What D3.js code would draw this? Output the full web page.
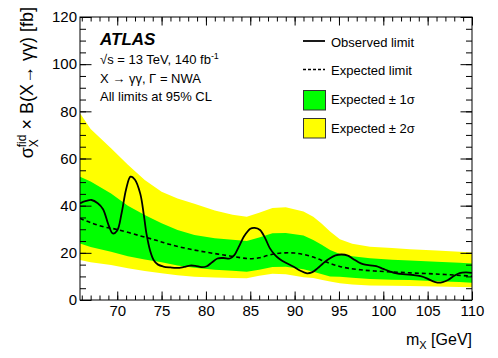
<!DOCTYPE html>
<html>
<head>
<meta charset="utf-8">
<script src="https://cdn.jsdelivr.net/npm/d3@7"></script>
<style>
  body { margin: 0; background: #fff; }
  text { font-family: "Liberation Sans", Arial, Helvetica, sans-serif; fill: #000; }
</style>
</head>
<body>
<svg id="chart"></svg>
<script>
// size of the graphic
var width = 498,
    height = 358;

// expected bands
var bandMass = [65.8, 67, 69.3, 71.2, 73.1, 75, 76.8, 78.7, 81, 83, 84.6, 86, 87.5, 89, 91, 92.1, 93, 94, 95.1, 96.5, 98.5, 101, 103, 106, 108.6, 110];
var plus2  = [79.2, 72.5, 64.3, 57.3, 50.9, 45.9, 43.0, 40.8, 38.0, 36.2, 35.3, 37.0, 39.0, 39.3, 37.5, 35.3, 32.5, 29.0, 25.8, 23.8, 22.6, 22.0, 21.5, 21.0, 20.5, 20.1];
var plus1  = [52.3, 50.2, 45.2, 40.0, 36.0, 32.5, 29.7, 27.6, 26.2, 25.5, 25.0, 26.5, 28.3, 28.4, 27.3, 25.4, 23.5, 21.2, 19.5, 18.5, 17.7, 17.1, 16.7, 16.2, 15.8, 15.5];
var minus1 = [24.0, 22.5, 20.5, 18.6, 17.2, 16.0, 14.6, 13.7, 12.8, 12.4, 12.0, 12.8, 14.0, 14.1, 13.0, 12.0, 11.0, 10.0, 9.9, 9.4, 8.9, 8.6, 8.5, 8.0, 7.6, 7.3];
var minus2 = [17.0, 16.0, 14.8, 13.5, 12.3, 11.3, 10.5, 9.9, 9.5, 9.3, 9.2, 10.3, 11.1, 10.9, 9.6, 9.3, 8.6, 7.8, 7.1, 6.6, 6.2, 6.0, 5.9, 5.7, 5.5, 5.4];

// expected limit (dashed)
var expMass  = [65.8, 67, 68.5, 70, 72.5, 74.4, 76, 78, 80, 82, 84, 85, 86, 87, 88, 89, 90, 91, 92, 93, 94, 95, 96, 97.4, 99, 101, 103, 105, 107, 110];
var expected = [34.6, 32.8, 31.0, 29.9, 27.3, 25.3, 23.5, 21.7, 20.3, 19.1, 17.9, 17.5, 17.9, 18.9, 19.7, 20.0, 19.9, 19.3, 18.3, 16.9, 15.5, 14.3, 13.5, 12.8, 12.3, 11.9, 11.5, 11.2, 10.8, 10.1];

// observed limit (solid)
var obsMass = [65.8, 66.5, 67.1, 67.8, 68.4, 69.0, 69.5, 70.0, 70.5, 71.0, 71.5, 72.0, 72.6, 73.0, 73.3, 73.7, 74.1, 74.6, 75.2, 76.0, 76.7, 77.5, 78.2, 78.8, 79.5, 80.1, 80.7, 81.3, 82.0, 82.7, 83.2, 83.7, 84.3, 85.0, 85.5, 86.1, 86.7, 87.2, 87.8, 88.3, 89.0, 89.9, 90.6, 91.4, 92.0, 92.6, 93.2, 93.9, 94.6, 95.3, 96.0, 96.6, 97.2, 97.7, 98.5, 99.2, 100.0, 100.7, 101.5, 102.5, 103.4, 104.2, 104.9, 105.5, 106.1, 106.7, 107.3, 108.0, 108.6, 109.3, 110.0];
var observed = [41, 42, 42.4, 41, 38.5, 32, 28.2, 29.5, 37, 47, 52.3, 51, 45, 36, 28, 21, 17, 15, 14.2, 13.8, 13.6, 14, 14.6, 14.5, 13.9, 14.3, 16, 17.6, 17.8, 17.6, 19, 22.5, 27, 30.2, 30.6, 29.7, 26, 22, 19, 17.4, 15.8, 14.1, 12.5, 11.3, 11.8, 13.5, 15.5, 17.5, 18.9, 19.3, 18.8, 17.4, 16, 15.2, 14.7, 14.4, 13.2, 12.2, 11.3, 10.9, 10.6, 10.1, 9.2, 8.1, 7.4, 7.6, 8.5, 10.3, 11.4, 11.7, 11.5];

// axis ticks
var xMajor = [70, 75, 80, 85, 90, 95, 100, 105, 110];
var xMinor = d3.range(66, 111, 1);
var yMajor = [0, 20, 40, 60, 80, 100, 120];
var yMinor = d3.range(0, 121, 5);

// frame of the plot
var frameL = 80, frameR = 472, frameT = 17, frameB = 300;

var x = d3.scaleLinear().domain([65.8, 110]).range([frameL, frameR]);
var y = d3.scaleLinear().domain([0, 120]).range([frameB, frameT]);

var svg = d3.select("#chart")
    .attr("width", width)
    .attr("height", height);

svg.append("clipPath").attr("id", "frame")
  .append("rect")
    .attr("x", frameL).attr("y", frameT)
    .attr("width", frameR - frameL).attr("height", frameB - frameT);

var plot = svg.append("g").attr("clip-path", "url(#frame)");

var bandRows = bandMass.map(function(m, i) {
  return { m: m, p2: plus2[i], p1: plus1[i], m1: minus1[i], m2: minus2[i] };
});

var band2 = d3.area()
    .x(function(d) { return x(d.m); })
    .y0(function(d) { return y(d.m2); })
    .y1(function(d) { return y(d.p2); });
var band1 = d3.area()
    .x(function(d) { return x(d.m); })
    .y0(function(d) { return y(d.m1); })
    .y1(function(d) { return y(d.p1); });

plot.append("path").datum(bandRows).attr("d", band2).attr("fill", "#ffff00");
plot.append("path").datum(bandRows).attr("d", band1).attr("fill", "#00ff00");

var line = d3.line()
    .x(function(d) { return x(d[0]); })
    .y(function(d) { return y(d[1]); })
    .curve(d3.curveCatmullRom.alpha(0.5));

plot.append("path")
    .datum(d3.zip(expMass, expected))
    .attr("d", line)
    .attr("fill", "none")
    .attr("stroke", "#000")
    .attr("stroke-width", 1.6)
    .attr("stroke-dasharray", "4,3");

plot.append("path")
    .datum(d3.zip(obsMass, observed))
    .attr("d", line)
    .attr("fill", "none")
    .attr("stroke", "#000")
    .attr("stroke-width", 1.8);

// axes, ROOT style: ticks inside on all four sides
function styleAxis(g) {
  g.select(".domain").remove();
  g.selectAll(".tick line").attr("stroke", "#000");
  g.selectAll(".tick text").attr("font-size", 15).attr("fill", "#000")
    .attr("font-family", "Liberation Sans, Arial, sans-serif");
}

svg.append("g").attr("transform", "translate(0," + frameB + ")")
    .call(d3.axisBottom(x).tickValues(xMinor).tickSize(-4.5).tickSizeOuter(0).tickFormat(""))
    .call(styleAxis);
svg.append("g").attr("transform", "translate(0," + frameB + ")")
    .call(d3.axisBottom(x).tickValues(xMajor).tickSize(-8.5).tickSizeOuter(0).tickPadding(5).tickFormat(d3.format("d")))
    .call(styleAxis);
svg.append("g").attr("transform", "translate(0," + frameT + ")")
    .call(d3.axisTop(x).tickValues(xMinor).tickSize(-4.5).tickSizeOuter(0).tickFormat(""))
    .call(styleAxis);
svg.append("g").attr("transform", "translate(0," + frameT + ")")
    .call(d3.axisTop(x).tickValues(xMajor).tickSize(-8.5).tickSizeOuter(0).tickFormat(""))
    .call(styleAxis);

svg.append("g").attr("transform", "translate(" + frameL + ",0)")
    .call(d3.axisLeft(y).tickValues(yMinor).tickSize(-6).tickSizeOuter(0).tickFormat(""))
    .call(styleAxis);
svg.append("g").attr("transform", "translate(" + frameL + ",0)")
    .call(d3.axisLeft(y).tickValues(yMajor).tickSize(-11.5).tickSizeOuter(0).tickPadding(3).tickFormat(d3.format("d")))
    .call(styleAxis);
svg.append("g").attr("transform", "translate(" + frameR + ",0)")
    .call(d3.axisRight(y).tickValues(yMinor).tickSize(-6).tickSizeOuter(0).tickFormat(""))
    .call(styleAxis);
svg.append("g").attr("transform", "translate(" + frameR + ",0)")
    .call(d3.axisRight(y).tickValues(yMajor).tickSize(-11.5).tickSizeOuter(0).tickFormat(""))
    .call(styleAxis);

svg.append("rect")
    .attr("x", frameL).attr("y", frameT)
    .attr("width", frameR - frameL).attr("height", frameB - frameT)
    .attr("fill", "none").attr("stroke", "#000").attr("stroke-width", 1);

// axis titles
var xt = svg.append("text")
    .attr("x", frameR).attr("y", 345)
    .attr("text-anchor", "end")
    .attr("font-size", 16);
xt.append("tspan").text("m");
xt.append("tspan").attr("font-size", 11).attr("dy", 4).text("X");
xt.append("tspan").attr("dy", -4).text(" [GeV]");

var yt = svg.append("g").attr("transform", "translate(33,7) rotate(-90)");
var ytText = yt.append("text").attr("text-anchor", "end").attr("font-size", 18);
ytText.append("tspan").text("σ");
var sup = ytText.append("tspan").attr("font-size", 12).attr("dy", -7.5).text("fid");
var supLen = sup.node().getComputedTextLength();
ytText.append("tspan").attr("font-size", 12).attr("dx", -supLen).attr("dy", 12.5).text("X");
var subLen = 8;
ytText.append("tspan").attr("dx", supLen - subLen).attr("dy", -5).text(" × B(X→ γγ) [fb]");

// ATLAS label block
svg.append("text")
    .attr("x", 100).attr("y", 45)
    .attr("font-size", 17).attr("font-weight", "bold").attr("font-style", "italic")
    .text("ATLAS");
var en = svg.append("text").attr("x", 100).attr("y", 64).attr("font-size", 13);
en.append("tspan").text("√s = 13 TeV, 140 fb");
en.append("tspan").attr("font-size", 9).attr("dy", -5).text("-1");
svg.append("text").attr("x", 100).attr("y", 82.5).attr("font-size", 13)
    .text("X → γγ, Γ = NWA");
svg.append("text").attr("x", 100).attr("y", 101).attr("font-size", 13)
    .text("All limits at 95% CL");

// legend
var legend = svg.append("g");
legend.append("line")
    .attr("x1", 303).attr("x2", 325).attr("y1", 41).attr("y2", 41)
    .attr("stroke", "#000").attr("stroke-width", 1.8);
legend.append("text").attr("x", 331).attr("y", 46.5).attr("font-size", 13).text("Observed limit");
legend.append("line")
    .attr("x1", 303).attr("x2", 325).attr("y1", 69.5).attr("y2", 69.5)
    .attr("stroke", "#000").attr("stroke-width", 1.5).attr("stroke-dasharray", "3,2");
legend.append("text").attr("x", 331).attr("y", 75).attr("font-size", 13).text("Expected limit");
legend.append("rect")
    .attr("x", 303.5).attr("y", 90.5).attr("width", 22).attr("height", 19.5)
    .attr("fill", "#00ff00").attr("stroke", "#333").attr("stroke-width", 1);
legend.append("text").attr("x", 331).attr("y", 104).attr("font-size", 13).text("Expected ± 1σ");
legend.append("rect")
    .attr("x", 303.5).attr("y", 118.5).attr("width", 22).attr("height", 19.5)
    .attr("fill", "#ffff00").attr("stroke", "#333").attr("stroke-width", 1);
legend.append("text").attr("x", 331).attr("y", 132.5).attr("font-size", 13).text("Expected ± 2σ");
</script>
</body>
</html>
